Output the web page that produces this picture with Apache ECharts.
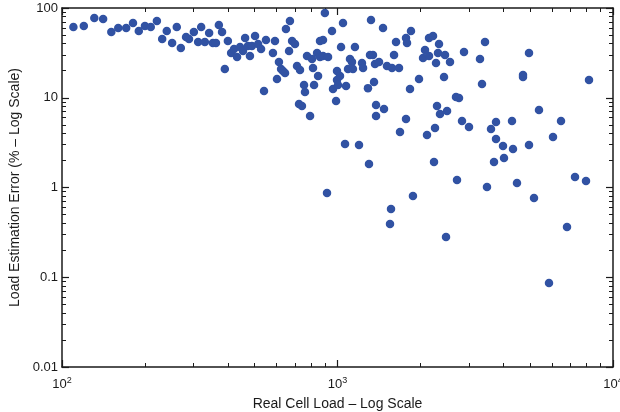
<!DOCTYPE html>
<html>
<head>
<meta charset="utf-8">
<script src="https://cdn.jsdelivr.net/npm/echarts@6/dist/echarts.min.js"></script>
<style>
    html, body {margin: 0; padding: 0; background: #fff;}
    #chart {width: 620px; height: 412px;}
</style>
</head>
<body>
<div id="chart"></div>
<script>
// real cell load (x) and load estimation error in % (y)
const cellLoad = [
    110, 120, 131, 141, 151, 160, 171, 181, 190, 200,
    210, 221, 231, 240, 251, 261, 270, 282, 289, 301,
    312, 320, 330, 342, 353, 362, 371, 381, 390, 400,
    411, 421, 432, 443, 454, 462, 473, 481, 489, 502,
    515, 528, 541, 550, 583, 593, 603, 613, 624, 634,
    645, 650, 672, 667, 684, 701, 713, 725, 731, 743,
    756, 762, 775, 795, 808, 815, 822, 843, 850, 864,
    886, 864, 886, 924, 900, 955, 963, 988, 996, 1021,
    996, 1004, 1074, 916, 1047, 1030, 1157, 1110, 1129, 1092,
    1138, 1227, 1238, 1312, 1345, 1368, 1415, 1512, 1577, 1672,
    1323, 1463, 1848, 1631, 1773, 1788, 1604, 1357, 1290, 1833,
    1380, 1475, 1380, 1773, 1686, 1065, 1197, 1301, 1879, 1564,
    1551, 1976, 2044, 2078, 2149, 2149, 2222, 2336, 2316, 2456,
    2278, 2561, 2436, 2879, 3431, 3290, 4955, 2297, 2498, 2355,
    2692, 2761, 2831, 3001, 2259, 2113, 2240, 2715, 2477, 4713,
    4713, 3346, 8183, 5387, 3761, 4299, 6476, 3607, 3761, 6056,
    3988, 4335, 4955, 4021, 3699, 3488, 4482, 5167, 7279, 7980,
    6808, 5857
];
const estError = [
    61.4, 63.0, 77.4, 75.4, 54.0, 59.9, 59.9, 68.0, 55.4, 63.0,
    61.4, 71.6, 45.1, 55.4, 40.7, 61.4, 35.8, 47.5, 45.1, 54.0,
    41.8, 61.4, 41.8, 52.6, 40.7, 40.7, 64.6, 54.0, 20.9, 42.9,
    31.5, 34.9, 28.4, 36.8, 33.2, 46.3, 37.7, 29.2, 37.7, 48.8,
    39.7, 34.9, 11.9, 44.0, 31.5, 42.9, 16.2, 25.0, 20.9, 19.9,
    18.9, 58.3, 71.6, 33.2, 42.9, 39.7, 22.6, 8.52, 20.4, 8.09,
    13.9, 11.6, 29.2, 6.26, 27.0, 21.5, 13.9, 31.5, 17.5, 42.9,
    44.0, 28.4, 29.2, 28.4, 88.0, 55.4, 12.5, 9.20, 19.9, 17.5,
    15.8, 13.9, 13.5, 0.868, 68.0, 36.8, 36.8, 27.0, 25.0, 20.9,
    20.9, 24.4, 21.5, 29.9, 29.9, 23.8, 25.0, 22.6, 21.5, 21.5,
    73.5, 59.9, 55.4, 41.8, 46.3, 40.7, 29.9, 15.0, 12.8, 12.5,
    8.30, 7.49, 6.26, 5.80, 4.15, 3.05, 2.98, 1.83, 0.804, 0.576,
    0.392, 16.2, 27.7, 34.0, 29.2, 46.3, 48.8, 39.7, 31.5, 29.9,
    24.4, 25.0, 17.0, 32.3, 41.8, 27.0, 31.5, 8.09, 7.12, 6.59,
    10.2, 9.94, 5.51, 4.72, 4.60, 3.85, 1.92, 1.21, 0.281, 17.9,
    17.0, 14.2, 15.8, 7.30, 5.37, 5.51, 5.51, 4.48, 3.47, 3.65,
    2.90, 2.69, 2.98, 2.13, 1.92, 1.01, 1.12, 0.764, 1.31, 1.18,
    0.363, 0.0863
];

const xRange = [100, 10000];
const yRange = [0.01, 100];

const textColor = '#1a1a1a';
const lineColor = '#1a1a1a';
const dotColor = '#3152a3';

// minor tick spots (2..9 in every decade), in log10 units for the overlay axes
function minorSpots(lo, hi) {
    let out = [];
    for (let d = lo; d < hi; d++) {
        for (let k = 2; k <= 9; k++) out.push(d + Math.log10(k));
    }
    return out;
}

const pts = cellLoad.map((v, i) => [v, estError[i]]);

const chart = echarts.init(document.getElementById('chart'), null, {renderer: 'canvas'});

const majorAxis = (pos, showLabel, extra) => Object.assign({
    type: 'log',
    position: pos,
    axisLine: {show: true, onZero: false, lineStyle: {color: lineColor, width: 1.5}},
    axisTick: {show: true, inside: true, length: 7, lineStyle: {color: lineColor, width: 1.2}},
    axisLabel: {show: showLabel},
    splitLine: {show: false}
}, extra);

const minorAxis = (pos, lo, hi) => ({
    type: 'value',
    position: pos,
    min: lo,
    max: hi,
    axisLine: {show: false, onZero: false},
    axisTick: {show: true, inside: true, length: 4, customValues: minorSpots(lo, hi),
        lineStyle: {color: lineColor, width: 1}},
    axisLabel: {show: false},
    splitLine: {show: false}
});

chart.setOption({
    animation: false,
    backgroundColor: '#fff',
    textStyle: {fontFamily: 'Liberation Sans, Arial, sans-serif'},
    grid: {left: 62, right: 7, top: 8, bottom: 45, containLabel: false, outerBoundsMode: 'none'},
    xAxis: [
        majorAxis('bottom', true, {
            min: xRange[0], max: xRange[1],
            name: 'Real Cell Load – Log Scale',
            nameLocation: 'middle',
            nameGap: 30,
            nameTextStyle: {fontSize: 14, color: textColor},
            axisLabel: {
                show: true, margin: 9, color: textColor, fontSize: 13,
                hideOverlap: false, showMinLabel: true, showMaxLabel: true,
                formatter: v => '10{sup|' + Math.round(Math.log10(v)) + '}',
                rich: {sup: {fontSize: 9, verticalAlign: 'top', padding: [0, 0, 7, 0], color: textColor}}
            }
        }),
        majorAxis('top', false, {min: xRange[0], max: xRange[1]}),
        minorAxis('bottom', 2, 4),
        minorAxis('top', 2, 4)
    ],
    yAxis: [
        majorAxis('left', true, {
            min: yRange[0], max: yRange[1],
            name: 'Load Estimation Error (% – Log Scale)',
            nameLocation: 'middle',
            nameGap: 30,
            nameTextStyle: {fontSize: 14, color: textColor},
            axisLabel: {show: true, margin: 4, color: textColor, fontSize: 13, formatter: v => String(v)}
        }),
        majorAxis('right', false, {min: yRange[0], max: yRange[1]}),
        minorAxis('left', -2, 2),
        minorAxis('right', -2, 2)
    ],
    series: [{
        type: 'scatter',
        xAxisIndex: 0,
        yAxisIndex: 0,
        symbol: 'circle',
        symbolSize: 8.5,
        itemStyle: {color: dotColor, opacity: 1},
        data: pts
    }]
});
</script>
</body>
</html>
